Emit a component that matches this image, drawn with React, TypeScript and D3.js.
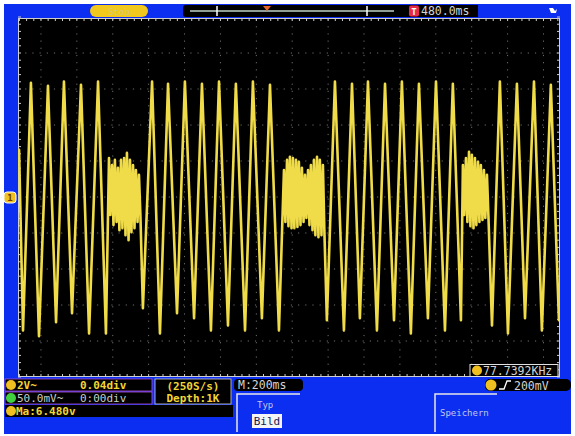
import React from 'react';
import * as d3 from 'd3';

const W = 575;
const H = 436;

// Time in ms (200 ms/div), level in V (2 V/div)
const segA: [number, number][] = [[6, 2.62], [28, -7.41], [72, 6.35], [117, -7.74], [167, 6.18], [212, -6.96], [256, 6.41], [301, -6.46], [351, 6.24], [396, -7.58], [446, 6.41], [490, -7.58]];
const burst1: [number, number][] = [[507, 2.17], [515, -1.0], [524, 1.78], [532, -1.56], [540, 2.06], [549, -1.39], [557, 1.62], [565, -1.84], [574, 2.06], [582, -1.73], [591, 2.17], [599, -2.12], [607, 2.45], [616, -2.4], [624, 2.06], [632, -1.95], [641, 1.78], [649, -1.73], [657, 1.5], [666, -1.39], [674, 1.23], [682, -1.0]];
const segB: [number, number][] = [[696, -6.18], [747, 6.41], [791, -7.58], [836, 6.29], [886, -6.46], [930, 6.41], [981, -6.74], [1025, 6.29], [1075, -7.41], [1120, 6.41], [1170, -7.13], [1214, 6.29], [1265, -7.41], [1309, 6.41], [1359, -6.74], [1404, 6.24], [1454, -7.41]];
const burst2: [number, number][] = [[1482, 1.5], [1490, -1.39], [1499, 2.06], [1507, -1.62], [1515, 2.23], [1524, -1.73], [1532, 2.17], [1540, -1.73], [1549, 2.06], [1557, -1.67], [1565, 1.95], [1574, -1.56], [1582, 1.62], [1591, -1.39], [1599, 1.23], [1607, -1.17], [1616, 1.5], [1624, -1.56], [1632, 1.78], [1641, -1.84], [1649, 2.06], [1657, -2.12], [1666, 2.23], [1674, -2.23], [1682, 2.06], [1691, -2.12], [1699, 1.78], [1707, -1.84]];
const segC: [number, number][] = [[1721, -6.85], [1766, 6.41], [1816, -7.41], [1861, 6.29], [1905, -6.74], [1950, 6.41], [2000, -7.41], [2045, 6.29], [2095, -6.85], [2139, 6.41], [2189, -7.58], [2234, 6.29], [2284, -6.74], [2329, 6.41], [2379, -7.41], [2423, 6.29], [2468, -6.85]];
const burst3: [number, number][] = [[2479, 1.78], [2487, -1.0], [2496, 2.17], [2504, -1.39], [2513, 2.51], [2521, -1.62], [2529, 2.34], [2538, -1.73], [2546, 2.17], [2554, -1.56], [2563, 1.95], [2571, -1.39], [2579, 1.78], [2588, -1.28], [2596, 1.5], [2604, -1.17], [2613, 1.23], [2621, -1.0]];
const segD: [number, number][] = [[2641, -7.13], [2685, 6.41], [2730, -7.58], [2780, 6.29], [2825, -6.74], [2875, 6.41], [2919, -7.41], [2969, 6.24], [3014, -6.85]];

const gridTimes = [128, 328, 528, 728, 928, 1128, 1328, 1528, 1728, 1928, 2128, 2328, 2528, 2728, 2928];
const gridVolts = [-8, -6, -4, -2, 0, 2, 4, 6, 8];

const ch1Label = '2V~';
const ch1Pos = '0.04div';
const ch2Label = '50.0mV~';
const ch2Pos = '0:00div';
const measLabel = 'Ma:6.480v';
const sampleRate = '(250S/s)';
const depth = 'Depth:1K';
const timebase = 'M:200ms';
const trigDelay = '480.0ms';
const freqLabel = '77.7392KHz';
const trigLevel = '200mV';
const statusLabel = 'Stop';
const menuTitle = 'Typ';
const menuValue = 'Bild';
const menuSave = 'Speichern';

const BLUE = '#0c2ef0';
const YEL = '#f2d535';
const TRACE = '#f0dc48';
const TXT = '#d4d4d4';
const MONO = '"DejaVu Sans Mono", monospace';

export default function App() {
  const x = d3.scaleLinear().domain([0, 3020]).range([18, 560]);
  const y = d3.scaleLinear().domain([-10, 10]).range([377, 17]);
  const trace = [...segA, ...burst1, ...segB, ...burst2, ...segC, ...burst3, ...segD];
  const line = d3
    .line<[number, number]>()
    .x((d) => x(d[0]))
    .y((d) => y(d[1]))
    .curve(d3.curveLinear);

  const minorT = d3.range(8, 3020, 40);
  const minorV = d3.range(-10, 10.01, 0.4);

  return (
    <svg width={W} height={H} style={{ position: 'absolute', left: 0, top: 0, display: 'block' }}>
      <rect x={0} y={0} width={W} height={H} fill="#ffffff" />
      <rect x={4} y={4} width={567} height={430} fill={BLUE} />
      {/* plot */}
      <rect x={18} y={18} width={542} height={359} fill="#000" />
      <defs>
        <clipPath id="plotclip">
          <rect x={18} y={18} width={542} height={359} />
        </clipPath>
      </defs>
      <g stroke="#6e6e6e" strokeWidth={1} strokeDasharray="1.2 5.98">
        {gridTimes.map((t) => (
          <line key={'vt' + t} x1={x(t)} x2={x(t)} y1={19} y2={377} />
        ))}
        {gridVolts.map((v) => (
          <line key={'hv' + v} x1={18} x2={560} y1={y(v)} y2={y(v)} />
        ))}
      </g>
      {/* rulers on frame */}
      <g stroke="#cfcfcf" strokeWidth={1}>
        <line x1={18} x2={560} y1={18.5} y2={18.5} />
        <line x1={18} x2={560} y1={376.5} y2={376.5} />
        <line x1={18.5} x2={18.5} y1={18} y2={377} />
        <line x1={559.5} x2={559.5} y1={18} y2={377} />
        {minorT.map((t) => (
          <g key={'mt' + t}>
            <line x1={x(t)} x2={x(t)} y1={18} y2={21} />
            <line x1={x(t)} x2={x(t)} y1={374} y2={377} />
          </g>
        ))}
        {minorV.map((v) => (
          <g key={'mv' + v}>
            <line x1={18} x2={21} y1={y(v)} y2={y(v)} />
            <line x1={557} x2={560} y1={y(v)} y2={y(v)} />
          </g>
        ))}
      </g>
      <g clipPath="url(#plotclip)">
        <path d={line(trace) || ''} fill="none" stroke={TRACE} strokeWidth={2.6} strokeLinejoin="round" strokeLinecap="round" />
      </g>

      {/* top bar */}
      <rect x={90} y={5} width={58} height={12} rx={6} fill="#f2c81c" />
      <text x={119} y={14.5} textAnchor="middle" fontFamily={MONO} fontSize={9} fill="#d6c878">{statusLabel}</text>
      <rect x={183} y={5} width={217} height={12} rx={3} fill="#000" />
      <line x1={190} x2={394} y1={11} y2={11} stroke="#8e9e94" strokeWidth={2} />
      <line x1={217} x2={217} y1={6} y2={16} stroke="#fff" strokeWidth={1.5} />
      <line x1={367} x2={367} y1={6} y2={16} stroke="#fff" strokeWidth={1.5} />
      <path d="M263,6 L271,6 L267,11 Z" fill="#e8602a" />
      <rect x={398} y={5} width={80} height={12} fill="#000" />
      <rect x={409} y={5.5} width={10} height={11} rx={2} fill="#e82a4a" />
      <text x={414} y={14.5} textAnchor="middle" fontFamily={MONO} fontSize={9} fontWeight="bold" fill="#fff">T</text>
      <text x={421} y={15} fontFamily={MONO} fontSize={11.5} fill={TXT}>{trigDelay}</text>
      <path d="M549,8 L553,8 L555,11 L557,9 L556,13 L551,13 Z" fill="#fff" />

      {/* channel marker */}
      <rect x={4} y={192} width={12} height={11} rx={3} fill="#f0c020" stroke="#fff" strokeWidth={1} />
      <text x={10} y={201} textAnchor="middle" fontFamily={MONO} fontSize={9} fontWeight="bold" fill="#6a3a00">1</text>

      {/* bottom left channel info */}
      <rect x={5} y={379} width={147} height={12} fill="#000" stroke="#b050c8" strokeWidth={0.8} />
      <circle cx={11} cy={385} r={5} fill="#f0c020" />
      <text x={17} y={389} fontFamily={MONO} fontSize={11} fontWeight="bold" fill={YEL}>{ch1Label}</text>
      <text x={80} y={389} fontFamily={MONO} fontSize={11} fontWeight="bold" fill={YEL}>{ch1Pos}</text>
      <rect x={5} y={392} width={147} height={12} fill="#000" stroke="#b050c8" strokeWidth={0.8} />
      <circle cx={11} cy={398} r={5} fill="#40d040" />
      <text x={17} y={402} fontFamily={MONO} fontSize={11} fill="#c8cfc8">{ch2Label}</text>
      <text x={80} y={402} fontFamily={MONO} fontSize={11} fill="#c8cfc8">{ch2Pos}</text>
      <rect x={5} y={405} width={228} height={12} fill="#000" />
      <circle cx={11} cy={411} r={5} fill="#f0c020" />
      <text x={16} y={415} fontFamily={MONO} fontSize={11} fontWeight="bold" fill={YEL}>{measLabel}</text>

      <rect x={155} y={379} width={76} height={25} fill="#000" stroke="#d0d0d0" strokeWidth={0.8} />
      <text x={193} y={389.5} textAnchor="middle" fontFamily={MONO} fontSize={11} fontWeight="bold" fill={YEL}>{sampleRate}</text>
      <text x={193} y={401.5} textAnchor="middle" fontFamily={MONO} fontSize={11} fontWeight="bold" fill={YEL}>{depth}</text>

      <rect x={234} y={379} width={69} height={12} rx={4} fill="#000" />
      <text x={238} y={389} fontFamily={MONO} fontSize={11.5} fill={TXT}>{timebase}</text>

      {/* menu */}
      <g stroke="#e8e8e8" strokeWidth={1.5} fill="none">
        <path d="M237,432 L237,394 L300,394" />
        <path d="M435,432 L435,394 L497,394" />
      </g>
      <text x={257} y={408} fontFamily={MONO} fontSize={9} fill="#c0c8e8">{menuTitle}</text>
      <rect x={252} y={414} width={30} height={14} fill="#f4f4f4" />
      <text x={267} y={425} textAnchor="middle" fontFamily={MONO} fontSize={11} fill="#1a1a50">{menuValue}</text>
      <text x={440} y={416} fontFamily={MONO} fontSize={9} fill="#c0c8e8">{menuSave}</text>

      {/* frequency */}
      <rect x={470} y={364.5} width={88} height={12} fill="#000" stroke="#e0e0e0" strokeWidth={1} />
      <circle cx={477} cy={370.5} r={5} fill="#f0c020" />
      <text x={483} y={375} fontFamily={MONO} fontSize={11.5} fill={TXT}>{freqLabel}</text>

      {/* trigger */}
      <rect x={485} y={379} width={86} height={12} rx={5} fill="#000" />
      <circle cx={491} cy={385} r={5.5} fill="#f0c020" />
      <path d="M499,389 L504,389 L507,381 L511,381" fill="none" stroke="#fff" strokeWidth={1.3} />
      <text x={514} y={389.5} fontFamily={MONO} fontSize={11.5} fill={TXT}>{trigLevel}</text>
    </svg>
  );
}
